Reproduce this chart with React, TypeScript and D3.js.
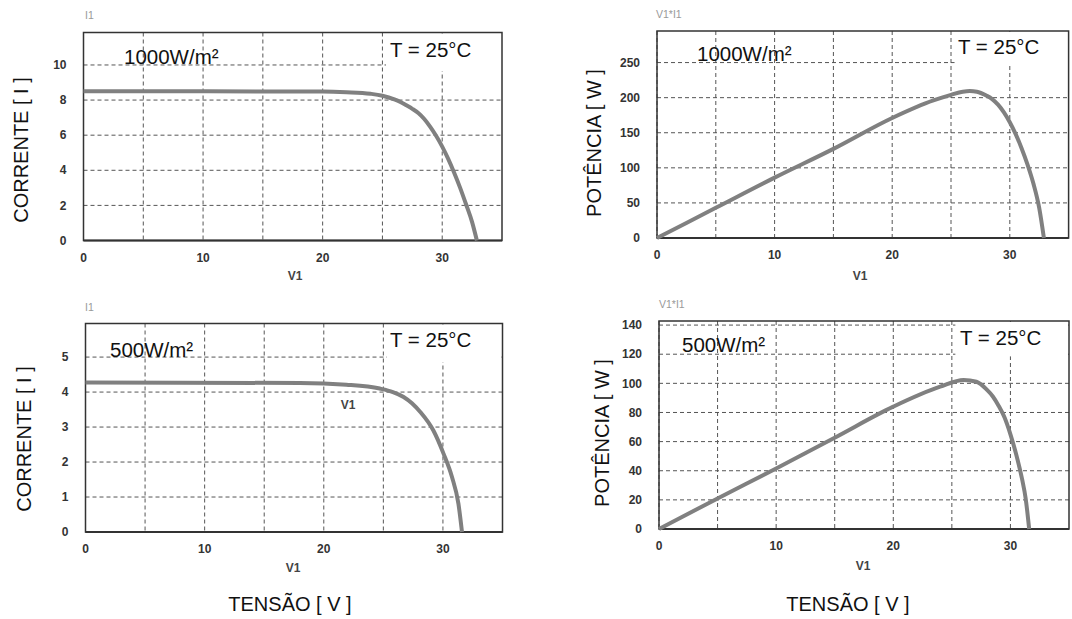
import React from "react";
import * as d3 from "d3";

// ---- Data ----
const xTicks = [0, 10, 20, 30];
const xGrid = [0, 5, 10, 15, 20, 25, 30];

// I-V curve, 1000 W/m²
const vIV1000 = [0, 20, 22, 24, 25, 26, 26.5, 27, 27.5, 28, 28.5, 29, 29.5, 30, 30.5, 31, 31.5, 32, 32.5, 32.9];
const iIV1000 = [8.5, 8.49, 8.45, 8.36, 8.25, 8.04, 7.89, 7.7, 7.5, 7.26, 6.92, 6.47, 5.95, 5.35, 4.65, 3.86, 3.0, 2.05, 1.05, 0];

// P-V curve, 1000 W/m²
const vPV1000 = [0, 5, 10, 15, 20, 23.5, 25, 26, 26.6, 27.2, 28, 28.5, 29, 29.5, 30, 30.5, 31, 31.5, 32, 32.5, 32.9];
const pPV1000 = [0, 43, 86, 127, 171, 196, 204, 208.5, 209.5, 208.5, 203, 198, 190, 179, 165, 148, 128, 105, 78, 43, 0];

// I-V curve, 500 W/m²
const vIV500 = [0, 18, 21.9, 24.7, 25.8, 26.7, 27.4, 28.1, 29.2, 30.05, 30.76, 31.3, 31.6];
const iIV500 = [4.27, 4.26, 4.21, 4.1, 4.0, 3.86, 3.68, 3.43, 2.9, 2.24, 1.57, 0.81, 0];

// P-V curve, 500 W/m²
const vPV500 = [0, 5, 10, 15, 20, 24, 26, 27.1, 28, 28.5, 29, 29.5, 30, 30.5, 31, 31.3, 31.6];
const pPV500 = [0, 21, 41.6, 62.7, 84, 97.7, 102.3, 101.1, 95.5, 91, 84.5, 76.5, 65, 51, 34, 21, 0];

const ticksI1000 = [0, 2, 4, 6, 8, 10];
const ticksP1000 = [0, 50, 100, 150, 200, 250];
const ticksI500 = [0, 1, 2, 3, 4, 5];
const ticksP500 = [0, 20, 40, 60, 80, 100, 120, 140];

const FONT = "'Liberation Sans', Arial, Helvetica, sans-serif";

type Panel = {
  left: number; top: number; width: number; height: number;
  yMax: number; yTicks: number[]; boxBottom: number;
  xs: number[]; ys: number[];
  varLabel: string; varX: number; varY: number;
  yLabel: string; yLabelX: number; yLabelY: number;
  irr: string; irrX: number; irrY: number;
  tX: number; tY: number;
  v1X: number; v1Y: number;
};

const panels: Panel[] = [
  {
    left: 83.5, top: 32.5, width: 418.5, height: 208, yMax: 11.85, yTicks: ticksI1000, boxBottom: 9.65,
    xs: vIV1000, ys: iIV1000,
    varLabel: "I1", varX: 85, varY: 19,
    yLabel: "CORRENTE [ I ]", yLabelX: 28, yLabelY: 150,
    irr: "1000W/m²", irrX: 124, irrY: 64,
    tX: 390, tY: 57, v1X: 295, v1Y: 280,
  },
  {
    left: 657, top: 31, width: 411.6, height: 207, yMax: 295, yTicks: ticksP1000, boxBottom: 246,
    xs: vPV1000, ys: pPV1000,
    varLabel: "V1*I1", varX: 656, varY: 18,
    yLabel: "POTÊNCIA [ W ]", yLabelX: 601, yLabelY: 143,
    irr: "1000W/m²", irrX: 697, irrY: 61,
    tX: 958, tY: 54, v1X: 860, v1Y: 280,
  },
  {
    left: 85.5, top: 323.5, width: 417, height: 208.5, yMax: 5.96, yTicks: ticksI500, boxBottom: 4.85,
    xs: vIV500, ys: iIV500,
    varLabel: "I1", varX: 85, varY: 311,
    yLabel: "CORRENTE [ I ]", yLabelX: 31, yLabelY: 439,
    irr: "500W/m²", irrX: 110, irrY: 357,
    tX: 390, tY: 347, v1X: 293, v1Y: 572,
  },
  {
    left: 659, top: 321, width: 410, height: 208, yMax: 142.8, yTicks: ticksP500, boxBottom: 118.5,
    xs: vPV500, ys: pPV500,
    varLabel: "V1*I1", varX: 659, varY: 308,
    yLabel: "POTÊNCIA [ W ]", yLabelX: 609, yLabelY: 433,
    irr: "500W/m²", irrX: 682, irrY: 352,
    tX: 960, tY: 345, v1X: 863, v1Y: 570,
  },
];

function PanelView({ p }: { p: Panel }) {
  const x = d3.scaleLinear().domain([0, 35]).range([p.left, p.left + p.width]);
  const y = d3.scaleLinear().domain([0, p.yMax]).range([p.top + p.height, p.top]);
  const pts: [number, number][] = p.xs.map((v, i) => [v, p.ys[i]]);
  const line = d3.line<[number, number]>().x(d => x(d[0])).y(d => y(d[1])).curve(d3.curveMonotoneX);
  const right = p.left + p.width;
  const bottom = p.top + p.height;
  const boxX = x(25.3);
  return (
    <g>
      {/* grid */}
      {xGrid.map(v => (
        <line key={"gx" + v} x1={x(v)} x2={x(v)} y1={p.top} y2={bottom}
          stroke="#555" strokeWidth={1} strokeDasharray="4,3" />
      ))}
      {p.yTicks.map(v => (
        <line key={"gy" + v} x1={p.left} x2={right} y1={y(v)} y2={y(v)}
          stroke="#555" strokeWidth={1} strokeDasharray="4,3" />
      ))}
      {/* white annotation box */}
      <rect x={boxX} y={p.top + 1} width={Math.max(0, right - boxX - 1)} height={y(p.boxBottom) - p.top - 1} fill="#fff" />
      {/* frame */}
      <rect x={p.left} y={p.top} width={p.width} height={p.height} fill="none" stroke="#333" strokeWidth={1.5} />
      <line x1={p.left} x2={right} y1={bottom} y2={bottom} stroke="#333" strokeWidth={2} />
      {/* curve */}
      <path d={line(pts) || ""} fill="none" stroke="#808080" strokeWidth={4} strokeLinejoin="round" />
      {/* y tick labels */}
      {p.yTicks.map(v => (
        <text key={"ty" + v} x={p.left - 17} y={y(v)} dy="0.35em" textAnchor="end"
          fontFamily={FONT} fontSize={12} fontWeight="bold" fill="#333">{v}</text>
      ))}
      {/* x tick labels */}
      {xTicks.map(v => (
        <text key={"tx" + v} x={x(v)} y={bottom + 21} textAnchor="middle"
          fontFamily={FONT} fontSize={12} fontWeight="bold" fill="#333">{v}</text>
      ))}
      <text x={p.v1X} y={p.v1Y} textAnchor="middle" fontFamily={FONT} fontSize={12} fontWeight="bold" fill="#444">V1</text>
      <text x={p.varX} y={p.varY} fontFamily={FONT} fontSize={10.5} fill="#999">{p.varLabel}</text>
      <text transform={`translate(${p.yLabelX},${p.yLabelY}) rotate(-90)`} textAnchor="middle"
        fontFamily={FONT} fontSize={20} fill="#111">{p.yLabel}</text>
      <text x={p.irrX} y={p.irrY} fontFamily={FONT} fontSize={20.5} fill="#111">{p.irr}</text>
      <text x={p.tX} y={p.tY} fontFamily={FONT} fontSize={20.5} fill="#111">T = 25°C</text>
    </g>
  );
}

export default function App() {
  return (
    <div style={{ position: "absolute", left: 0, top: 0, width: 1072, height: 619, overflow: "hidden", background: "#fff" }}>
      <svg width={1072} height={619} style={{ display: "block" }}>
        <rect x={0} y={0} width={1072} height={619} fill="#fff" />
        {panels.map((p, i) => <PanelView key={i} p={p} />)}
        {/* stray V1 label inside lower-left plot */}
        <text x={348} y={409} textAnchor="middle" fontFamily={FONT} fontSize={12} fontWeight="bold" fill="#444">V1</text>
        <text x={290} y={611} textAnchor="middle" fontFamily={FONT} fontSize={20} fill="#111">TENSÃO [ V ]</text>
        <text x={848} y={611} textAnchor="middle" fontFamily={FONT} fontSize={20} fill="#111">TENSÃO [ V ]</text>
      </svg>
    </div>
  );
}
